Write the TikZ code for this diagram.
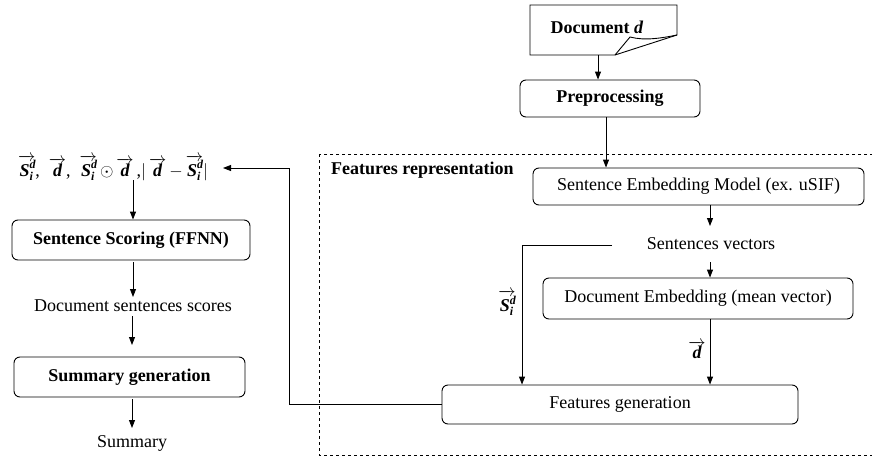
\documentclass[tikz,border=0pt]{standalone}
\usepackage{fontspec}
\setmainfont{Liberation Serif}
\usetikzlibrary{arrows.meta}
\newcommand{\bi}[1]{{\bfseries\itshape #1}}
\newcommand{\smallbi}[1]{{\fontsize{12}{12}\selectfont\bfseries\itshape #1}}
\newcommand{\SVec}{\ensuremath{\overrightarrow{\hbox{\bi{S}\rlap{\raisebox{0.42em}{\smallbi{d}}}\raisebox{-0.22em}{\smallbi{i}}\kern1pt}}}}
\newcommand{\DVec}{\ensuremath{\overrightarrow{\hbox{\bi{d}}}}}
\begin{document}
\begin{tikzpicture}[x=1pt,y=-1pt,
  every node/.style={font=\fontsize{18}{21}\selectfont, inner sep=0pt},
  rbox/.style={draw, line width=0.9pt, rounded corners=6pt},
  arr/.style={line width=0.9pt, -{Triangle[length=8pt,width=6pt]}},
  ln/.style={line width=0.9pt}
]
\useasboundingbox (0,0) rectangle (872,460);
% dashed container
\draw[dashed, line width=0.8pt] (319,154) rectangle (880,455);
\node[anchor=west, font=\fontsize{18}{21}\selectfont\bfseries] (frlab) at (331,170) {Features representation};

% document shape
\draw[ln] (530,5) -- (677,5) -- (677,35) -- (615,55) -- (530,55) -- cycle;
\draw[ln] (615,55) -- (630,37) .. controls (645,41) and (662,38) .. (677,35);
\node[font=\fontsize{18}{21}\selectfont\bfseries] (doc) at (597,27) {Document \textit{d}};
\coordinate (docb) at (598,55);

\node[rbox, minimum width=180pt, minimum height=37pt, font=\fontsize{18}{21}\selectfont\bfseries] (prep) at (610,98.5) {Preprocessing};
\draw[arr] (docb) -- (docb |- prep.north);

\node[rbox, minimum width=331pt, minimum height=37pt] (sem) at (698.5,186.5) {Sentence Embedding Model (ex. uSIF)};
\coordinate (pb) at (606,117);
\draw[arr] (pb) -- (pb |- sem.north);

\node (sv) at (711,244) {Sentences vectors};
\coordinate (semb) at (710,205);
\coordinate (svt) at (710,226);
\draw[arr] (semb) -- (svt);

\node[rbox, minimum width=310pt, minimum height=41pt] (de) at (698,298.5) {Document Embedding (mean vector)};
\coordinate (svb) at (710,262);
\draw[arr] (svb) -- (svb |- de.north);

\node[rbox, minimum width=356pt, minimum height=39pt] (fg) at (620,404.5) {Features generation};

% S_i^d path
\coordinate (vsl) at (612,245);
\coordinate (vsc) at (522,245);
\draw[arr] (vsl) -- (vsc) -- (vsc |- fg.north);
\node (slab) at (507,303) {\SVec};

% d path
\coordinate (deb) at (710,319);
\draw[arr] (deb) -- (deb |- fg.north);
\node (dlab) at (697,350) {\DVec};

% formula
\node (form) at (113,168) {\SVec,\enspace\DVec,\enspace\SVec\,$\odot$\,\DVec\,,$\vert$\,\DVec\,$-$\,\SVec$\vert$};

% feedback
\coordinate (fbx) at (289,404.5);
\coordinate (fbt) at (289,168);
\coordinate (fbe) at (223,168);
\draw[arr] (fg.west) -- (fbx) -- (fbt) -- (fbe);

% left column
\node[rbox, minimum width=238pt, minimum height=40pt, font=\fontsize{18}{21}\selectfont\bfseries] (ss) at (131,240) {Sentence Scoring (FFNN)};
\coordinate (ft) at (133,180);
\draw[arr] (ft) -- (ft |- ss.north);

\node (dss) at (133,306) {Document sentences scores};
\coordinate (ssb) at (133,262);
\coordinate (dsst) at (133,297);
\draw[arr] (ssb) -- (dsst);

\node[rbox, minimum width=231pt, minimum height=40pt, font=\fontsize{18}{21}\selectfont\bfseries] (sg) at (129.5,377) {Summary generation};
\coordinate (dssb) at (132,316);
\coordinate (sgt) at (132,345);
\draw[arr] (dssb) -- (sgt);

\node (sum) at (132,443) {Summary};
\coordinate (sgb) at (132,399);
\coordinate (sumt) at (132,428);
\draw[arr] (sgb) -- (sumt);
\end{tikzpicture}
\end{document}
